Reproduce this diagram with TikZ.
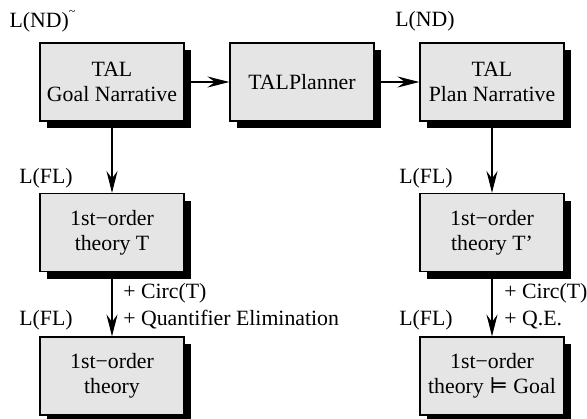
\documentclass[tikz,border=0pt]{standalone}
\usepackage{fontspec}
\setmainfont{Liberation Serif}
\newfontfamily\symbolfont{DejaVu Serif}
\usepackage{tikz}
\usetikzlibrary{arrows.meta,shadows}
\definecolor{inkblack}{RGB}{0,0,0}
\definecolor{boxgray}{RGB}{229,229,229}
\tikzset{
  stage/.style={draw=inkblack, line width=0.6pt, fill=boxgray,
    drop shadow={shadow xshift=0.14cm, shadow yshift=-0.14cm, fill=inkblack, opacity=1},
    font=\fontsize{12.4}{14}\selectfont, inner sep=2pt, align=center,
    minimum width=2.88cm, minimum height=1.56cm},
  flow/.style={-{Stealth[length=0.44cm,width=0.22cm,inset=0.15cm]}, line width=0.6pt, color=inkblack},
  lang/.style={font=\fontsize{12.4}{14}\selectfont, inner sep=0pt},
  step label/.style={font=\fontsize{12.4}{14}\selectfont, inner sep=0pt, anchor=west},
}
\begin{document}
\begin{tikzpicture}
  \useasboundingbox (0,0) rectangle (11.74,8.36);

  \node[stage] (goal)    at (2.24,6.72) {TAL\\Goal Narrative};
  \node[stage] (planner) at (6.04,6.72) {TALPlanner};
  \node[stage] (plan)    at (9.84,6.72) {TAL\\Plan Narrative};

  \node[stage] (thT)     at (2.24,3.71) {1st−order\\theory T};
  \node[stage] (thTp)    at (9.84,3.71) {1st−order\\theory T’};

  \node[stage] (thfin)   at (2.24,0.84) {1st−order\\theory};
  \node[stage] (thgoal)  at (9.84,0.84) {1st−order\\theory {\symbolfont ⊨} Goal};

  \node[lang] (ndgoal) at (0.85,7.94) {L(ND)\raisebox{1.2ex}{\scriptsize\textasciitilde}};
  \node[lang] (ndplan) at (8.5,7.94)  {L(ND)};
  \node[lang] (flT)    at (0.92,4.80) {L(FL)};
  \node[lang] (flTp)   at (8.52,4.80) {L(FL)};
  \node[lang] (flfin)  at (0.92,1.96) {L(FL)};
  \node[lang] (flgoal) at (8.52,1.96) {L(FL)};

  \node[step label] (circL) at (2.46,2.50) {+ Circ(T)};
  \node[step label] (qeL)   at (2.46,1.96) {+ Quantifier Elimination};
  \node[step label] (circR) at (10.08,2.50) {+ Circ(T)};
  \node[step label] (qeR)   at (10.08,1.96) {+ Q.E.};

  \draw[flow] (goal) -- (planner);
  \draw[flow] (planner) -- (plan);
  \draw[flow] (goal) -- (thT);
  \draw[flow] (plan) -- (thTp);
  \draw[flow] (thT) -- (thfin);
  \draw[flow] (thTp) -- (thgoal);

\end{tikzpicture}
\end{document}
